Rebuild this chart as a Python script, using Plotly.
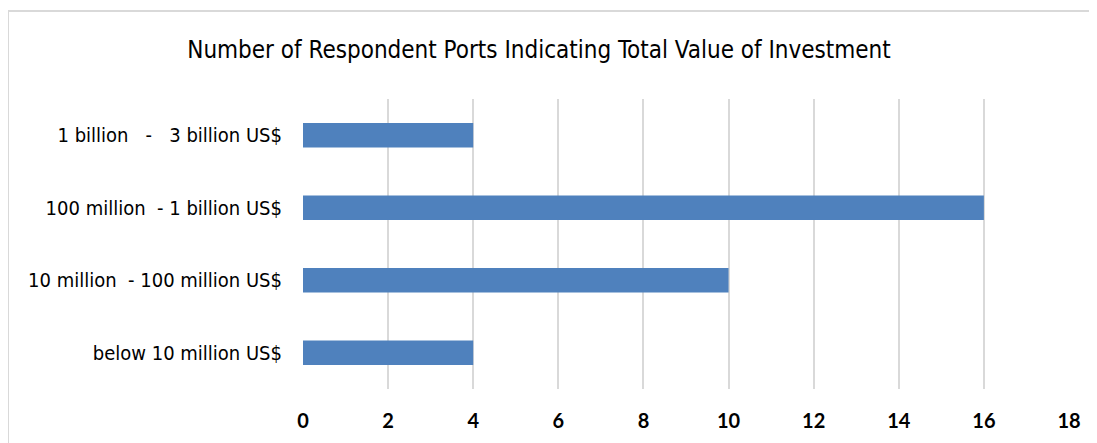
import plotly.graph_objects as go

categories = ["below 10 million US$", "10 million  - 100 million US$", "100 million  - 1 billion US$", "1 billion   -   3 billion US$"]
values = [4, 10, 16, 4]
tick_vals = [0, 2, 4, 6, 8, 10, 12, 14, 16, 18]

# page body has an 8px margin, so the figure is sized to fit inside the window
W, H = 1089, 435
L, R, T, B = 295, 28, 91, 54
pw, ph = W - L - R, H - T - B

NARROW = "DejaVu Sans Condensed, Liberation Sans Narrow, Arial Narrow, sans-serif"

fig = go.Figure(go.Bar(
    y=categories, x=values, orientation="h",
    marker=dict(color="#4F81BD", line=dict(width=0)),
    width=0.34,
))

fig.update_layout(
    width=W, height=H,
    margin=dict(l=L, r=R, t=T, b=B),
    paper_bgcolor="white", plot_bgcolor="white",
    showlegend=False,
    title=dict(text="Number of Respondent Ports Indicating Total Value of Investment",
               x=531 / W, xanchor="center", y=1 - 42 / H, yanchor="middle",
               font=dict(family=NARROW, size=24, color="#000000")),
    xaxis=dict(range=[0, 18], tickvals=tick_vals, showgrid=True, gridcolor="#D9D9D9", gridwidth=2,
               zeroline=False, showline=False, ticks="", ticklabelstandoff=18,
               tickfont=dict(family="Lato, Open Sans, sans-serif", size=20, color="#000000", weight="bold")),
    yaxis=dict(categoryorder="array", categoryarray=categories, showgrid=False, zeroline=False,
               showline=False, ticks="", ticklabelstandoff=20,
               tickfont=dict(family=NARROW, size=20, color="#000000")),
    shapes=[dict(type="rect", xref="paper", yref="paper",
                 x0=(0 - L) / pw, x1=(W + 20 - L) / pw,
                 y0=-(B + 20) / ph, y1=(H - B - 3) / ph,
                 line=dict(color="#D9D9D9", width=2), fillcolor="rgba(0,0,0,0)", layer="below")],
)

fig.write_html("out.html")
